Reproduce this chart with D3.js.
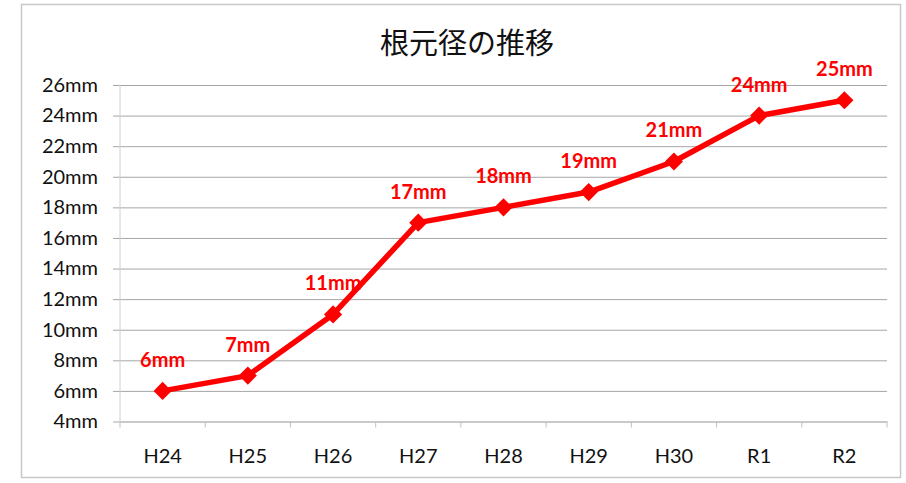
<!doctype html>
<html>
<head>
  <meta charset="UTF-8">
  <script src="https://d3js.org/d3.v7.min.js"></script>
  <style>
    body { margin: 0; background: #fff; }
    .grid line { stroke: #a6a6a6; }
    text { font-family: Lato, "Noto Sans", sans-serif; }
  </style>
</head>
<body>
<svg width="906" height="483"></svg>
<script>
// data
var years = ["H24", "H25", "H26", "H27", "H28", "H29", "H30", "R1", "R2"];
var diameters = [6, 7, 11, 17, 18, 19, 21, 24, 25];
var yTicks = [4, 6, 8, 10, 12, 14, 16, 18, 20, 22, 24, 26];

var svg = d3.select("svg");
var margin = {top: 85, right: 19, bottom: 61.5, left: 120};
var width = 906 - margin.left - margin.right;
var height = 483 - margin.top - margin.bottom;

// outer frame
svg.append("rect")
  .attr("x", 21.5).attr("y", 4.5)
  .attr("width", 879).attr("height", 473)
  .attr("fill", "#fff").attr("stroke", "#c8c8c8").attr("stroke-width", 1.5);

svg.append("text")
  .attr("x", 467).attr("y", 54)
  .attr("text-anchor", "middle")
  .style("font-family", "'Noto Sans CJK JP', sans-serif")
  .style("font-size", "29px")
  .attr("fill", "#111")
  .text("根元径の推移");

var x = d3.scaleBand().domain(years).range([0, width]);
var y = d3.scaleLinear().domain([4, 26]).range([height, 0]);

var g = svg.append("g").attr("transform", "translate(" + margin.left + "," + margin.top + ")");

// gridlines + y labels
var yAxis = g.append("g").attr("class", "grid")
  .call(d3.axisLeft(y).tickValues(yTicks).tickSize(-width - 7).tickFormat(d => d + "mm").tickPadding(15))
  .attr("transform", "translate(-7,0)");
yAxis.select(".domain").remove();
yAxis.selectAll("text").style("font-size", "20px").attr("fill", "#111");

// vertical axis line
g.append("line").attr("x1", 0).attr("x2", 0).attr("y1", 0).attr("y2", height)
  .attr("stroke", "#d0d0d0");

// x axis
var xAxis = g.append("g").attr("transform", "translate(0," + height + ")")
  .call(d3.axisBottom(x).tickSize(0).tickPadding(27));
xAxis.select(".domain").attr("stroke", "#c0c0c0");
xAxis.selectAll("text").style("font-size", "20px").attr("fill", "#111");

// category ticks at band edges
g.append("g").selectAll("line")
  .data(years.concat(["end"]))
  .join("line")
  .attr("x1", (d, i) => i * x.step())
  .attr("x2", (d, i) => i * x.step())
  .attr("y1", height).attr("y2", height + 6)
  .attr("stroke", "#c0c0c0");

var pts = years.map((d, i) => ({k: d, v: diameters[i]}));
var line = d3.line().x(d => x(d.k) + x.bandwidth() / 2).y(d => y(d.v));

g.append("path").datum(pts)
  .attr("d", line)
  .attr("fill", "none")
  .attr("stroke", "#ff0000")
  .attr("stroke-width", 5.5)
  .attr("stroke-linejoin", "round");

g.selectAll(".mk").data(pts).join("path")
  .attr("class", "mk")
  .attr("d", d3.symbol().type(d3.symbolDiamond2).size(210))
  .attr("transform", d => "translate(" + (x(d.k) + x.bandwidth() / 2) + "," + y(d.v) + ")")
  .attr("fill", "#ff0000");

g.selectAll(".lbl").data(pts).join("text")
  .attr("class", "lbl")
  .attr("x", d => x(d.k) + x.bandwidth() / 2)
  .attr("y", d => y(d.v) - 24)
  .attr("text-anchor", "middle")
  .style("font-size", "20px")
  .style("font-weight", "bold")
  .attr("fill", "#ff0000")
  .text(d => d.v + "mm");
</script>
</body>
</html>
